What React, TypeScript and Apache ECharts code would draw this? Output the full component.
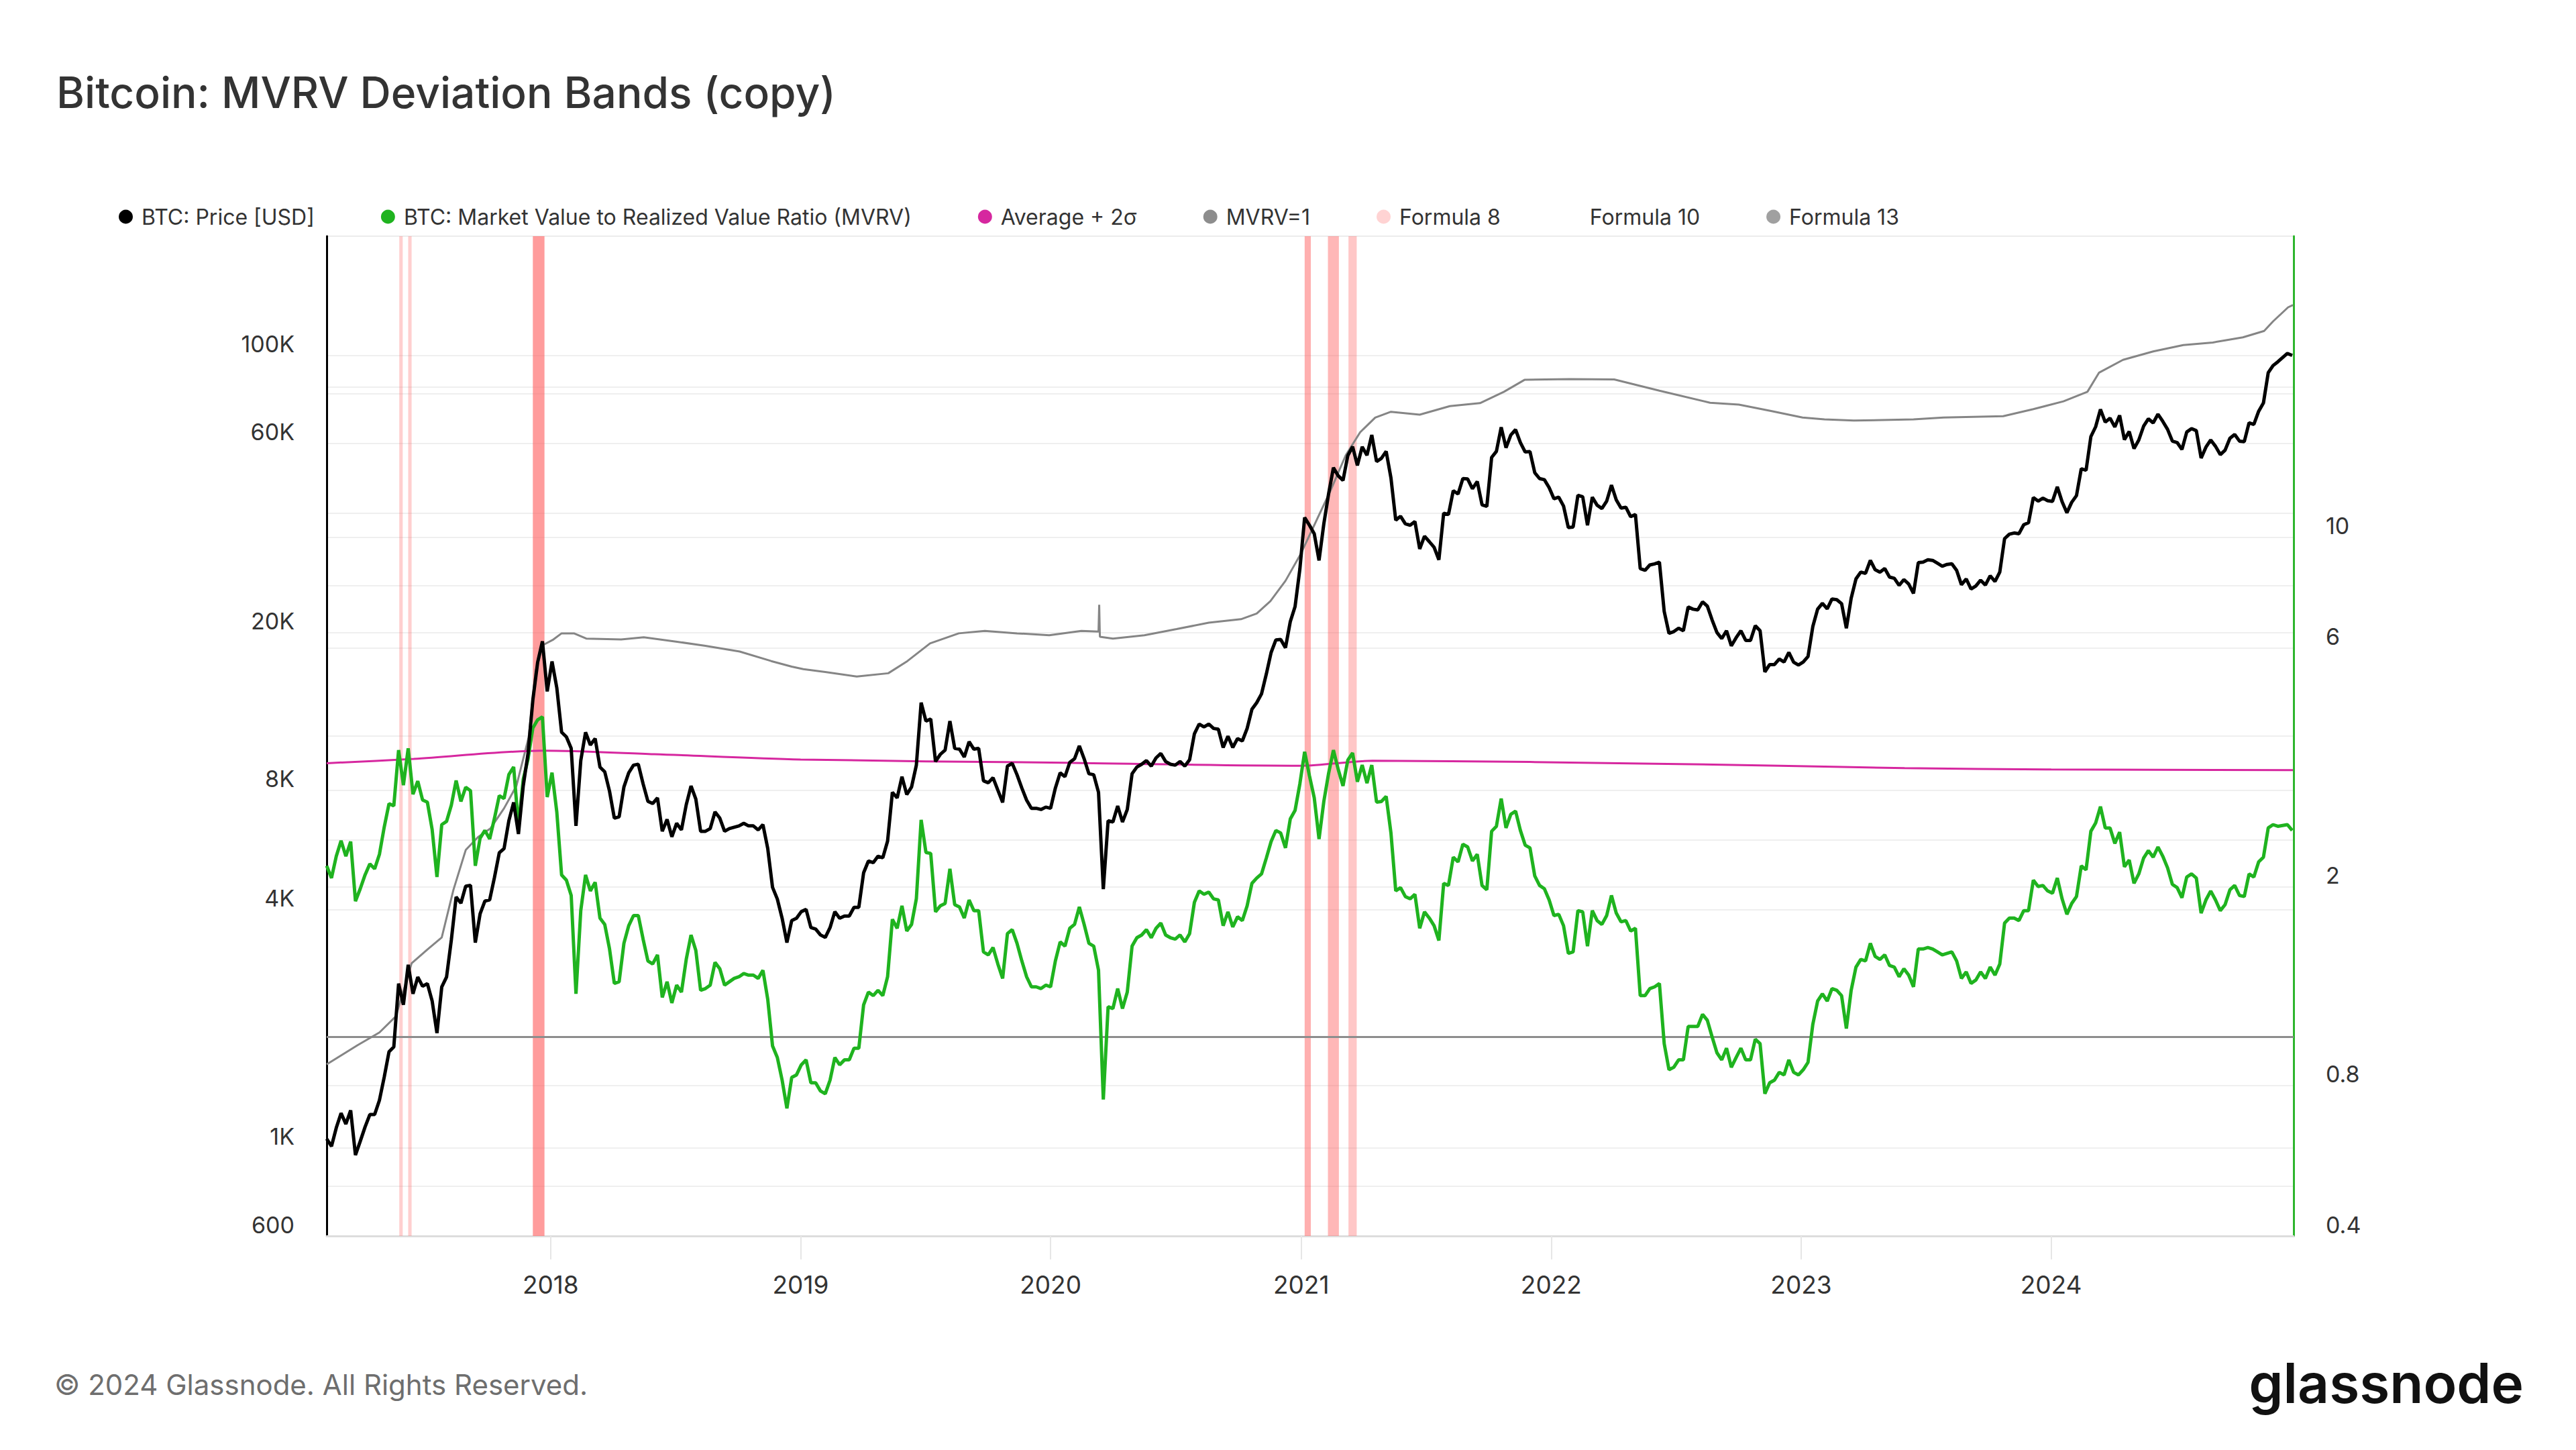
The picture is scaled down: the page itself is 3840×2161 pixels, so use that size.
import React, { useEffect, useRef } from "react";
import * as echarts from "echarts";

// ---------- DATA ----------
const WEEK_START = "2017-02-08"; // weekly samples, every 7 days

const price2017 = [1055, 1010, 1125, 1225, 1150, 1245, 960, 1040, 1130, 1215, 1215, 1320, 1510, 1750, 1800, 2600, 2300, 2900, 2450, 2700, 2560, 2600, 2350, 1950, 2550, 2700, 3350, 4300, 4150, 4580, 4600, 3300, 3900, 4200, 4230, 4820, 5560, 5700, 6700, 7450, 6200, 8200, 9900, 13500, 16800, 19000, 14200];
const price2018 = [16900, 14500, 11200, 10900, 10200, 6500, 9500, 11200, 10400, 10800, 9150, 8900, 7950, 6800, 6850, 8150, 8850, 9250, 9300, 8300, 7500, 7400, 7650, 6300, 6750, 6100, 6600, 6350, 7350, 8200, 7600, 6300, 6300, 6400, 7050, 6800, 6300, 6400, 6450, 6500, 6600, 6500, 6500, 6350, 6550, 5700, 4550, 4250, 3800, 3300, 3750, 3800];
const price2019 = [3950, 4000, 3600, 3570, 3450, 3400, 3600, 3950, 3800, 3850, 3850, 4050, 4050, 4950, 5300, 5250, 5450, 5400, 5950, 7900, 7650, 8650, 7800, 8150, 9250, 13300, 11950, 12100, 9450, 9850, 10100, 11950, 10200, 10150, 9700, 10600, 10150, 10200, 8450, 8350, 8600, 8000, 7450, 9200, 9350, 8750, 8100, 7550, 7200, 7200, 7150, 7250];
const price2020 = [7200, 8100, 8850, 8650, 9400, 9600, 10350, 9600, 8800, 8750, 7900, 4500, 6700, 6650, 7300, 6650, 7150, 8800, 9150, 9300, 9500, 9200, 9650, 9900, 9450, 9300, 9250, 9450, 9200, 9550, 11100, 11750, 11550, 11750, 11450, 11400, 10250, 10950, 10250, 10800, 10650, 11450, 12800, 13300, 14000, 15700, 17800, 19150, 19200, 18300, 21300, 23250, 28900];
const price2021 = [39000, 37300, 35500, 30400, 37600, 44800, 52100, 49700, 48400, 55900, 58900, 52800, 58800, 56000, 63000, 54000, 55000, 57300, 49100, 38400, 39300, 37600, 37300, 38100, 32500, 35000, 33900, 32800, 30500, 40000, 39700, 45600, 44700, 48900, 48800, 46100, 48100, 42000, 41600, 55300, 57300, 65900, 58500, 63000, 65000, 60300, 57100, 57200, 50600, 48900, 48600, 46400];
const price2022 = [43500, 43900, 41700, 36800, 36900, 44400, 44000, 37300, 43900, 41900, 41100, 42900, 47100, 43200, 41200, 41400, 39200, 39700, 29000, 28700, 29600, 29800, 30100, 22600, 19900, 20100, 20500, 20200, 23200, 22900, 22800, 23900, 23300, 21500, 20000, 19300, 20200, 18500, 19400, 20200, 19100, 19100, 20800, 20200, 15900, 16600, 16600, 17150, 16850, 17800, 16830, 16550];
const price2023 = [16850, 17400, 20700, 22900, 23700, 22950, 24300, 24200, 23650, 20500, 24400, 27300, 28400, 28200, 30400, 28800, 28400, 29000, 27600, 27400, 26300, 27200, 26500, 25100, 30000, 30100, 30500, 30400, 29900, 29400, 29700, 29800, 28700, 26400, 27300, 25750, 26200, 27100, 26350, 27800, 26900, 28400, 34500, 35400, 35650, 35500, 37400, 37850, 43800, 42900, 43650, 43000];
const price2024 = [42850, 46600, 42750, 40100, 42600, 44300, 51800, 51300, 62400, 66100, 73100, 67900, 69450, 66000, 70600, 61300, 64300, 58200, 61200, 66300, 69200, 67600, 71100, 68200, 65100, 60800, 60300, 57900, 64100, 65400, 64600, 55100, 58700, 61200, 59000, 56200, 57700, 61800, 63200, 60800, 60600, 67600, 67000, 72300, 75900, 90500, 94300, 96400, 98800, 101200, 100000];

const mvrv2017 = [2.2, 2.08, 2.3, 2.47, 2.3, 2.46, 1.87, 1.98, 2.11, 2.22, 2.17, 2.32, 2.63, 2.93, 2.9, 3.75, 3.19, 3.78, 3.06, 3.25, 2.98, 2.95, 2.6, 2.09, 2.66, 2.7, 2.91, 3.26, 2.96, 3.16, 3.11, 2.2, 2.5, 2.59, 2.49, 2.74, 3.04, 3.0, 3.35, 3.47, 2.64, 3.28, 3.6, 4.15, 4.31, 4.37, 3.02];
const mvrv2018 = [3.38, 2.82, 2.11, 2.06, 1.92, 1.22, 1.79, 2.11, 1.96, 2.04, 1.73, 1.68, 1.5, 1.28, 1.29, 1.54, 1.67, 1.75, 1.75, 1.57, 1.42, 1.4, 1.46, 1.2, 1.29, 1.17, 1.27, 1.23, 1.43, 1.6, 1.49, 1.24, 1.25, 1.27, 1.41, 1.37, 1.27, 1.29, 1.31, 1.32, 1.34, 1.33, 1.33, 1.31, 1.36, 1.19, 0.96, 0.91, 0.82, 0.72, 0.83, 0.84];
const mvrv2019 = [0.88, 0.9, 0.81, 0.81, 0.78, 0.77, 0.82, 0.91, 0.88, 0.9, 0.9, 0.95, 0.95, 1.16, 1.23, 1.21, 1.24, 1.21, 1.32, 1.72, 1.65, 1.83, 1.63, 1.68, 1.89, 2.72, 2.34, 2.33, 1.78, 1.83, 1.85, 2.17, 1.84, 1.82, 1.73, 1.88, 1.79, 1.79, 1.48, 1.46, 1.51, 1.4, 1.31, 1.61, 1.64, 1.54, 1.42, 1.32, 1.26, 1.26, 1.25, 1.27];
const mvrv2020 = [1.26, 1.42, 1.55, 1.52, 1.65, 1.68, 1.82, 1.68, 1.54, 1.52, 1.36, 0.75, 1.15, 1.14, 1.25, 1.14, 1.23, 1.52, 1.58, 1.6, 1.64, 1.58, 1.65, 1.69, 1.6, 1.58, 1.57, 1.6, 1.55, 1.61, 1.86, 1.96, 1.93, 1.95, 1.89, 1.88, 1.67, 1.78, 1.66, 1.74, 1.71, 1.83, 2.03, 2.08, 2.12, 2.28, 2.46, 2.59, 2.56, 2.39, 2.73, 2.84, 3.21];
const mvrv2021 = [3.72, 3.33, 3.01, 2.49, 2.96, 3.37, 3.75, 3.43, 3.18, 3.58, 3.7, 3.24, 3.5, 3.22, 3.5, 2.95, 2.96, 3.03, 2.56, 1.96, 1.99, 1.91, 1.89, 1.93, 1.65, 1.78, 1.73, 1.67, 1.56, 2.03, 2.01, 2.29, 2.24, 2.43, 2.4, 2.25, 2.32, 2.01, 1.97, 2.58, 2.64, 3.0, 2.62, 2.79, 2.83, 2.59, 2.42, 2.39, 2.1, 2.01, 1.98, 1.88];
const mvrv2022 = [1.75, 1.76, 1.67, 1.47, 1.48, 1.79, 1.78, 1.52, 1.79, 1.71, 1.68, 1.75, 1.92, 1.77, 1.7, 1.71, 1.63, 1.65, 1.21, 1.21, 1.25, 1.26, 1.28, 0.97, 0.86, 0.87, 0.9, 0.9, 1.05, 1.05, 1.05, 1.11, 1.08, 1.0, 0.93, 0.9, 0.95, 0.87, 0.91, 0.95, 0.9, 0.9, 0.99, 0.97, 0.77, 0.81, 0.82, 0.85, 0.84, 0.9, 0.85, 0.84];
const mvrv2023 = [0.86, 0.89, 1.06, 1.18, 1.22, 1.18, 1.25, 1.24, 1.21, 1.04, 1.24, 1.38, 1.43, 1.42, 1.54, 1.45, 1.43, 1.46, 1.39, 1.38, 1.32, 1.37, 1.33, 1.26, 1.5, 1.5, 1.51, 1.5, 1.48, 1.46, 1.47, 1.48, 1.42, 1.31, 1.35, 1.28, 1.3, 1.35, 1.31, 1.38, 1.33, 1.4, 1.69, 1.73, 1.73, 1.71, 1.79, 1.79, 2.06, 2.0, 2.01, 1.96];
const mvrv2024 = [1.94, 2.08, 1.89, 1.76, 1.85, 1.91, 2.2, 2.16, 2.58, 2.68, 2.89, 2.62, 2.62, 2.44, 2.57, 2.19, 2.26, 2.03, 2.12, 2.28, 2.36, 2.29, 2.4, 2.3, 2.18, 2.02, 1.99, 1.9, 2.09, 2.12, 2.08, 1.77, 1.88, 1.96, 1.88, 1.79, 1.84, 1.97, 2.01, 1.92, 1.91, 2.12, 2.09, 2.24, 2.29, 2.62, 2.66, 2.64, 2.65, 2.66, 2.59];

// Average + 2 sigma (right axis)
const bandDates = ["2017-02-08", "2017-06-15", "2017-12-20", "2018-06-01", "2019-01-01", "2020-01-01", "2021-01-01", "2021-04-15", "2021-12-01", "2022-12-01", "2023-06-01", "2024-01-01", "2024-12-19"];
const bandValues = [3.53, 3.6, 3.74, 3.68, 3.59, 3.54, 3.49, 3.57, 3.55, 3.49, 3.45, 3.43, 3.42];

// Formula 13 (left axis)
const f13Dates = ["2017-02-08", "2017-03-25", "2017-04-26", "2017-05-20", "2017-06-12", "2017-07-05", "2017-07-26", "2017-08-12", "2017-08-30", "2017-09-17", "2017-10-05", "2017-10-25", "2017-11-12", "2017-11-30", "2017-12-10", "2017-12-21", "2018-01-05", "2018-01-17", "2018-02-04", "2018-02-22", "2018-04-14", "2018-05-17", "2018-07-03", "2018-08-15", "2018-10-04", "2018-11-19", "2018-12-19", "2019-01-05", "2019-02-06", "2019-03-24", "2019-05-09", "2019-06-06", "2019-07-09", "2019-08-20", "2019-09-27", "2019-11-13", "2019-12-30", "2020-02-15", "2020-03-11", "2020-03-12", "2020-03-13", "2020-04-01", "2020-05-17", "2020-07-03", "2020-08-19", "2020-10-05", "2020-10-28", "2020-11-17", "2020-12-09", "2020-12-31", "2021-01-22", "2021-02-13", "2021-03-07", "2021-03-28", "2021-04-19", "2021-05-12", "2021-06-23", "2021-08-06", "2021-09-19", "2021-10-24", "2021-11-23", "2022-01-28", "2022-04-03", "2022-06-08", "2022-08-21", "2022-10-02", "2022-11-18", "2023-01-03", "2023-02-04", "2023-03-19", "2023-06-14", "2023-07-28", "2023-10-23", "2023-12-06", "2024-01-19", "2024-02-23", "2024-03-11", "2024-04-15", "2024-05-29", "2024-07-12", "2024-08-24", "2024-10-07", "2024-11-07", "2024-11-20", "2024-12-12", "2024-12-19"];
const f13Values = [1626, 1817, 1957, 2150, 2925, 3170, 3400, 4480, 5650, 6090, 6400, 7200, 8200, 10900, 16000, 18600, 19200, 19900, 19900, 19300, 19200, 19450, 18970, 18500, 17900, 16940, 16400, 16160, 15900, 15480, 15780, 16940, 18770, 19900, 20180, 19900, 19680, 20180, 20100, 23500, 19500, 19300, 19680, 20400, 21170, 21600, 22330, 24000, 27000, 31500, 37950, 45700, 56000, 64000, 69700, 72100, 70900, 74500, 75800, 81000, 86800, 87200, 87000, 81500, 76000, 75150, 72450, 69750, 69000, 68500, 69000, 69750, 70300, 73200, 76600, 80980, 90520, 97500, 102400, 106250, 107850, 111100, 115300, 121900, 132300, 134000];

// Formula 8 periods (MVRV above Average + 2 sigma)
const formula8Start = ["2017-05-25", "2017-06-07", "2017-12-06", "2021-01-06", "2021-02-09", "2021-03-11"];
const formula8End = ["2017-05-30", "2017-06-12", "2017-12-23", "2021-01-15", "2021-02-25", "2021-03-23"];

const mvrvOneLevel = 1;

const xMin = "2017-02-08";
const xMax = "2024-12-20";
const leftLabels = [600, 1000, 4000, 8000, 20000, 60000, 100000];
const leftGrid = [600, 800, 1000, 4000, 6000, 8000, 20000, 40000, 60000, 80000, 100000];
const rightLabels = [0.4, 0.8, 2, 6, 10];
const rightGrid = [0.4, 0.6, 0.8, 2, 4, 6, 8, 10, 20];

// ---------- styles ----------
const FONT = "Inter, 'Noto Sans', sans-serif";
const formula8Alpha = [0.3, 0.3, 0.62, 0.5, 0.45, 0.35];

// ---------- helpers ----------
const DAY = 86400000;
function ts(s: string): number {
  const [y, m, d] = s.split("-").map(Number);
  return Date.UTC(y, m - 1, d);
}

const prices = [...price2017, ...price2018, ...price2019, ...price2020, ...price2021, ...price2022, ...price2023, ...price2024];
const mvrvs = [...mvrv2017, ...mvrv2018, ...mvrv2019, ...mvrv2020, ...mvrv2021, ...mvrv2022, ...mvrv2023, ...mvrv2024];
const weekTs = prices.map((_, i) => ts(WEEK_START) + i * 7 * DAY);

export default function App() {
  const ref = useRef<HTMLDivElement>(null);

  useEffect(() => {
    if (!ref.current) return;
    const chart = echarts.init(ref.current, undefined, { renderer: "svg" });

    const names = {
      price: "BTC: Price [USD]",
      mvrv: "BTC: Market Value to Realized Value Ratio (MVRV)",
      band: "Average + 2σ",
      one: "MVRV=1",
      f8: "Formula 8",
      f10: "Formula 10",
      f13: "Formula 13",
    };

    const option: any = {
      animation: false,
      backgroundColor: "#ffffff",
      textStyle: { fontFamily: FONT },
      title: {
        text: "Bitcoin: MVRV Deviation Bands (copy)",
        left: 79,
        top: 100,
        textStyle: { fontFamily: FONT, fontSize: 64, fontWeight: 500, color: "#333333" },
      },
      legend: {
        left: 172,
        top: 302,
        icon: "circle",
        itemWidth: 21,
        itemHeight: 21,
        itemGap: 99,
        selectedMode: false,
        textStyle: { fontFamily: FONT, fontSize: 32, color: "#333333", padding: [0, 0, 0, 8] },
        data: [names.price, names.mvrv, names.band, names.one, names.f8, names.f10, names.f13],
      },
      grid: {
        left: 487,
        right: 421,
        top: 352,
        bottom: 319,
        show: true,
        borderColor: "#ececec",
        borderWidth: 2,
        backgroundColor: "transparent",
      },
      xAxis: {
        type: "time",
        min: ts(xMin),
        max: ts(xMax),
        minInterval: 364 * DAY,
        axisLine: { show: true, lineStyle: { color: "#dddddd", width: 3 } },
        axisTick: {
          show: true,
          length: 35,
          lineStyle: { color: "#e6e6e6", width: 2 },
        },
        axisLabel: {
          formatter: (v: number) => String(new Date(v + 12 * 3600 * 1000).getUTCFullYear()),
          fontFamily: FONT,
          fontSize: 37,
          color: "#333333",
          margin: 54,
          showMinLabel: false,
          showMaxLabel: false,
        },
        splitLine: { show: false },
      },
      yAxis: [
        {
          type: "log",
          min: 600,
          max: 200000,
          position: "left",
          axisLine: { show: true, lineStyle: { color: "#000000", width: 3 } },
          axisTick: { show: false, customValues: leftGrid },
          axisLabel: {
            customValues: leftLabels,
            formatter: (v: number) => (v >= 1000 ? `${Math.round(v / 1000)}K` : String(v)),
            fontFamily: FONT,
            fontSize: 34,
            color: "#333333",
            margin: 48,
            verticalAlign: "bottom",
          },
          splitLine: { show: true, lineStyle: { color: "#efefef", width: 2 } },
          minorTick: { show: false },
          minorSplitLine: { show: false },
        },
        {
          type: "log",
          min: 0.4,
          max: 40,
          position: "right",
          axisLine: { show: true, lineStyle: { color: "#2db52d", width: 3 } },
          axisTick: { show: false, customValues: rightGrid },
          axisLabel: {
            customValues: rightLabels,
            formatter: (v: number) => String(v),
            fontFamily: FONT,
            fontSize: 34,
            color: "#333333",
            margin: 48,
            verticalAlign: "bottom",
          },
          splitLine: { show: true, lineStyle: { color: "#efefef", width: 2 } },
          minorTick: { show: false },
          minorSplitLine: { show: false },
        },
      ],
      series: [
        {
          name: names.f8,
          type: "line",
          yAxisIndex: 0,
          data: [],
          itemStyle: { color: "#ffd3d3" },
          lineStyle: { color: "#ffd3d3" },
          markArea: {
            silent: true,
            data: formula8Start.map((s, i) => [
              { xAxis: ts(s), itemStyle: { color: `rgba(255, 95, 95, ${formula8Alpha[i]})` } },
              { xAxis: ts(formula8End[i]) },
            ]),
          },
        },
        {
          name: names.f10,
          type: "line",
          yAxisIndex: 0,
          data: [],
          itemStyle: { color: "rgba(0,0,0,0)" },
          lineStyle: { color: "rgba(0,0,0,0)" },
        },
        {
          name: names.one,
          type: "line",
          yAxisIndex: 1,
          symbol: "none",
          data: [
            [ts(xMin), mvrvOneLevel],
            [ts(xMax), mvrvOneLevel],
          ],
          itemStyle: { color: "#8d8d8d" },
          lineStyle: { color: "#8d8d8d", width: 3 },
        },
        {
          name: names.f13,
          type: "line",
          yAxisIndex: 0,
          symbol: "none",
          data: f13Dates.map((d, i) => [ts(d), f13Values[i]]),
          itemStyle: { color: "#a0a0a0" },
          lineStyle: { color: "#858585", width: 3 },
        },
        {
          name: names.band,
          type: "line",
          yAxisIndex: 1,
          symbol: "none",
          smooth: 0.3,
          data: bandDates.map((d, i) => [ts(d), bandValues[i]]),
          itemStyle: { color: "#d6279f" },
          lineStyle: { color: "#d6279f", width: 3 },
        },
        {
          name: names.mvrv,
          type: "line",
          yAxisIndex: 1,
          symbol: "none",
          data: weekTs.map((t, i) => [t, mvrvs[i]]),
          itemStyle: { color: "#1fb31f" },
          lineStyle: { color: "#1fb31f", width: 5 },
        },
        {
          name: names.price,
          type: "line",
          yAxisIndex: 0,
          symbol: "none",
          data: weekTs.map((t, i) => [t, prices[i]]),
          itemStyle: { color: "#000000" },
          lineStyle: { color: "#000000", width: 5 },
        },
      ],
      graphic: [
        {
          type: "text",
          left: 81,
          top: 2042,
          style: {
            text: "© 2024 Glassnode. All Rights Reserved.",
            fontFamily: FONT,
            fontSize: 42,
            fill: "#6e6e6e",
          },
        },
        {
          type: "text",
          right: 78,
          top: 2020,
          style: {
            text: "glassnode",
            fontFamily: FONT,
            fontSize: 82,
            fontWeight: 600,
            fill: "#111111",
          },
        },
      ],
    };

    chart.setOption(option);
    return () => chart.dispose();
  }, []);

  return (
    <div
      ref={ref}
      style={{ position: "fixed", left: 0, top: 0, width: 3840, height: 2161, background: "#fff" }}
    />
  );
}
